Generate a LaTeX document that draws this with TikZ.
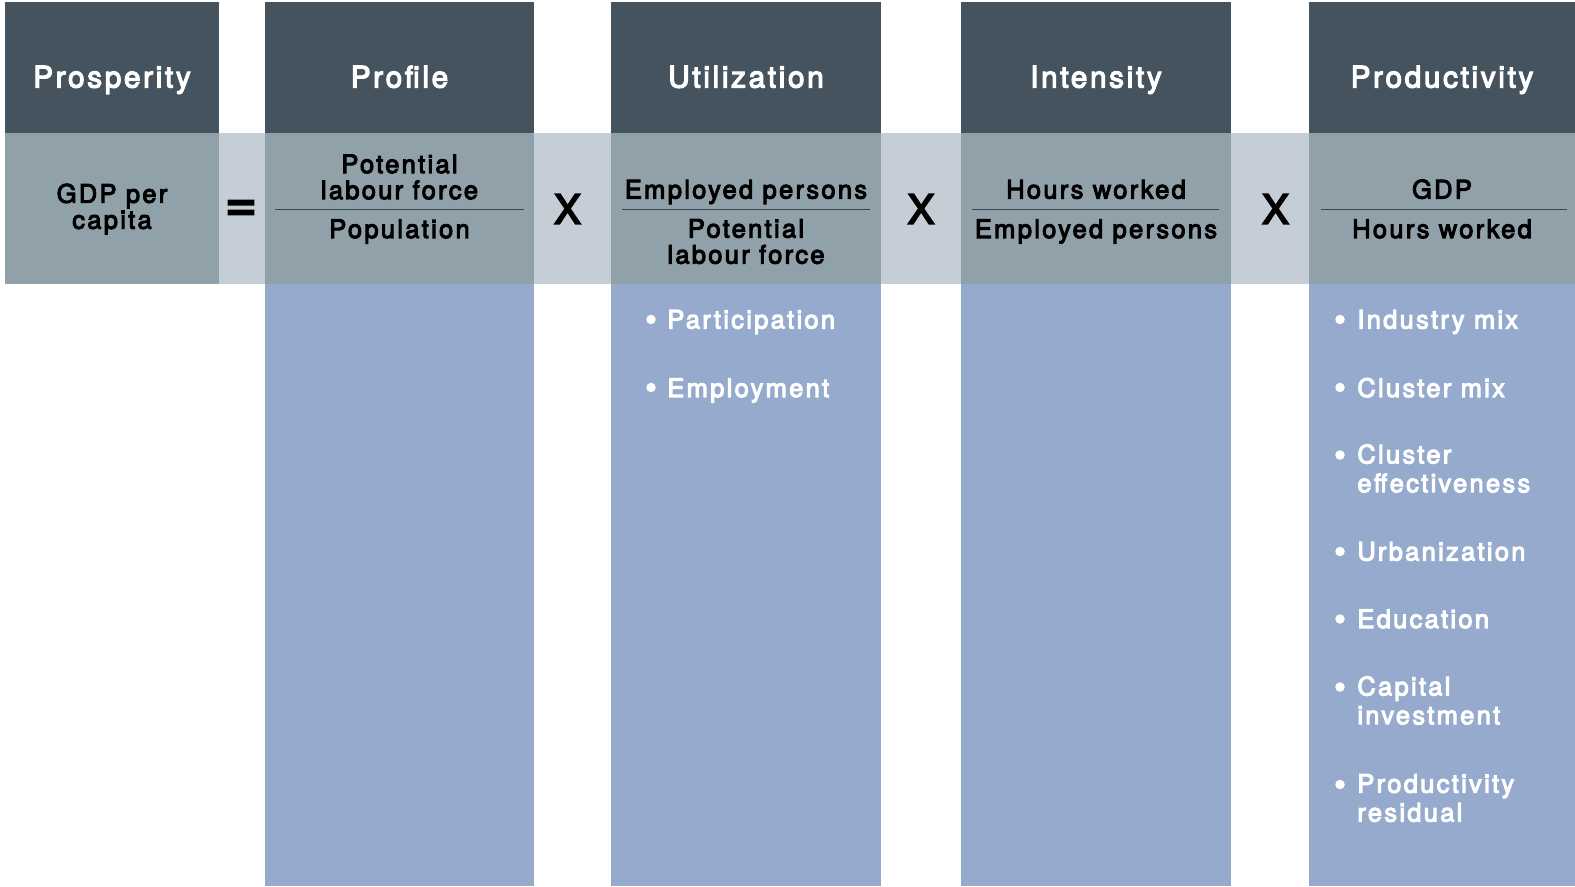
\documentclass[tikz,border=0pt]{standalone}
\usepackage{fontspec}
\setmainfont{TeX Gyre Heros}[LetterSpace=9, FakeBold=4]
\definecolor{headslate}{RGB}{69, 83, 94}
\definecolor{bandgray}{RGB}{145, 161, 170}
\definecolor{gaplight}{RGB}{197, 206, 214}
\definecolor{colblue}{RGB}{149, 170, 204}
\definecolor{ruledark}{RGB}{58, 70, 80}
\usetikzlibrary{positioning}

\begin{document}
\begin{tikzpicture}[
  headtext/.style={font=\fontsize{16.9}{19}\selectfont, text=white, anchor=base},
  bandtext/.style={font=\fontsize{14.5}{14.8}\selectfont, align=center, inner sep=0pt},
  optext/.style={font=\fontsize{23}{24}\selectfont, inner sep=0pt},
  itemtext/.style={font=\fontsize{14.5}{16.4}\selectfont, text=white, align=left, anchor=west, inner sep=0pt},
  bulletdot/.style={circle, fill=white, inner sep=0pt, minimum size=0.19cm},
  fracline/.style={ruledark, line width=0.8pt}
]
  \useasboundingbox (0, 0) rectangle (31.5, 17.72);

  % Light strip behind the formula
  \fill[gaplight] (0.1, 12.04) rectangle (31.5, 15.06);

  % Prosperity column
  \fill[headslate] (0.1, 15.06) rectangle (4.38, 17.68);
  \fill[bandgray] (0.1, 12.04) rectangle (4.38, 15.06);

  % Profile column
  \fill[headslate] (5.30, 15.06) rectangle (10.68, 17.68);
  \fill[bandgray] (5.30, 12.04) rectangle (10.68, 15.06);
  \fill[colblue] (5.30, 0) rectangle (10.68, 12.04);

  % Utilization column
  \fill[headslate] (12.22, 15.06) rectangle (17.62, 17.68);
  \fill[bandgray] (12.22, 12.04) rectangle (17.62, 15.06);
  \fill[colblue] (12.22, 0) rectangle (17.62, 12.04);

  % Intensity column
  \fill[headslate] (19.22, 15.06) rectangle (24.62, 17.68);
  \fill[bandgray] (19.22, 12.04) rectangle (24.62, 15.06);
  \fill[colblue] (19.22, 0) rectangle (24.62, 12.04);

  % Productivity column
  \fill[headslate] (26.18, 15.06) rectangle (31.5, 17.68);
  \fill[bandgray] (26.18, 12.04) rectangle (31.5, 15.06);
  \fill[colblue] (26.18, 0) rectangle (31.5, 12.04);

  % Headers
  \node[headtext] (prosp-head) at (2.24, 15.97) {Prosperity};
  \node[headtext] (prof-head) at (7.99, 15.97) {Profile};
  \node[headtext] (util-head) at (14.92, 15.97) {Utilization};
  \node[headtext] (inten-head) at (21.92, 15.97) {Intensity};
  \node[headtext] (prod-head) at (28.84, 15.97) {Productivity};

  % Formula
  \node[bandtext] (gdp-pc) at (2.24, 13.54) {GDP per\\capita};
  \node[optext, font=\fontsize{31}{31}\selectfont] (eq) at (4.82, 13.50) {=};

  \node[bandtext] (prof-num) at (7.99, 14.18) {Potential\\labour force};
  \draw[fracline] (5.50, 13.53) -- (10.48, 13.53);
  \node[bandtext, anchor=base] (prof-den) at (7.99, 12.96) {Population};
  \node[optext] (times-a) at (11.35, 13.54) {X};

  \node[bandtext, anchor=base] (util-num) at (14.92, 13.75) {Employed persons};
  \draw[fracline] (12.44, 13.53) -- (17.40, 13.53);
  \node[bandtext] (util-den) at (14.92, 12.89) {Potential\\labour force};
  \node[optext] (times-b) at (18.42, 13.54) {X};

  \node[bandtext, anchor=base] (inten-num) at (21.92, 13.75) {Hours worked};
  \draw[fracline] (19.44, 13.53) -- (24.38, 13.53);
  \node[bandtext, anchor=base] (inten-den) at (21.92, 12.96) {Employed persons};
  \node[optext] (times-c) at (25.51, 13.54) {X};

  \node[bandtext, anchor=base] (prod-num) at (28.84, 13.75) {GDP};
  \draw[fracline] (26.42, 13.53) -- (31.34, 13.53);
  \node[bandtext, anchor=base] (prod-den) at (28.84, 12.96) {Hours worked};

  % Utilization drivers
  \node[bulletdot] (u-dot1) at (13.02, 11.33) {};
  \node[itemtext, anchor=base west] (u-part) at (13.34, 11.15) {Participation};
  \node[bulletdot] (u-dot2) at (13.02, 9.97) {};
  \node[itemtext, anchor=base west] (u-empl) at (13.34, 9.78) {Employment};

  % Productivity drivers
  \node[bulletdot] (p-dot1) at (26.80, 11.33) {};
  \node[itemtext, anchor=base west] (p-ind) at (27.14, 11.15) {Industry mix};
  \node[bulletdot] (p-dot2) at (26.80, 9.97) {};
  \node[itemtext, anchor=base west] (p-clmix) at (27.14, 9.78) {Cluster mix};
  \node[bulletdot] (p-dot3) at (26.80, 8.62) {};
  \node[itemtext] (p-cleff) at (27.14, 8.35) {Cluster\\effectiveness};
  \node[bulletdot] (p-dot4) at (26.80, 6.69) {};
  \node[itemtext, anchor=base west] (p-urb) at (27.14, 6.51) {Urbanization};
  \node[bulletdot] (p-dot5) at (26.80, 5.34) {};
  \node[itemtext, anchor=base west] (p-edu) at (27.14, 5.16) {Education};
  \node[bulletdot] (p-dot6) at (26.80, 3.98) {};
  \node[itemtext] (p-cap) at (27.14, 3.71) {Capital\\investment};
  \node[bulletdot] (p-dot7) at (26.80, 2.03) {};
  \node[itemtext] (p-res) at (27.14, 1.76) {Productivity\\residual};
\end{tikzpicture}
\end{document}
